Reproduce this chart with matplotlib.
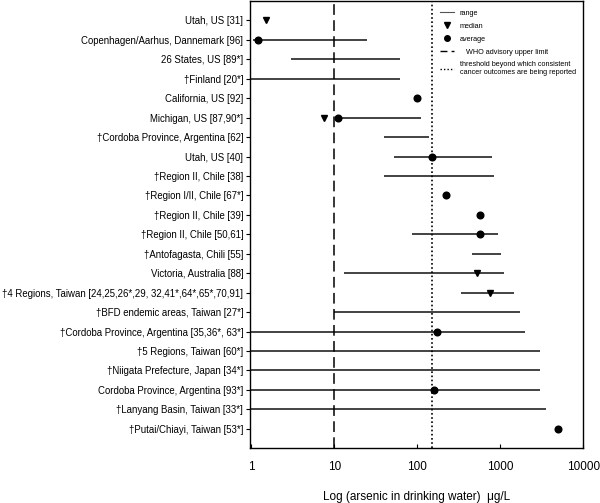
import numpy as np
import matplotlib
matplotlib.use("Agg")
import matplotlib.pyplot as plt
from matplotlib.lines import Line2D

plt.rcParams['font.family'] = ['Liberation Sans', 'DejaVu Sans']

# studies, top to bottom
studies = [
    "Utah, US [31]",
    "Copenhagen/Aarhus, Dannemark [96]",
    "26 States, US [89*]",
    "\u2020Finland [20*]",
    "California, US [92]",
    "Michigan, US [87,90*]",
    "\u2020Cordoba Province, Argentina [62]",
    "Utah, US [40]",
    "\u2020Region II, Chile [38]",
    "\u2020Region I/II, Chile [67*]",
    "\u2020Region II, Chile [39]",
    "\u2020Region II, Chile [50,61]",
    "\u2020Antofagasta, Chili [55]",
    "Victoria, Australia [88]",
    "\u20204 Regions, Taiwan [24,25,26*,29, 32,41*,64*,65*,70,91]",
    "\u2020BFD endemic areas, Taiwan [27*]",
    "\u2020Cordoba Province, Argentina [35,36*, 63*]",
    "\u20205 Regions, Taiwan [60*]",
    "\u2020Niigata Prefecture, Japan [34*]",
    "Cordoba Province, Argentina [93*]",
    "\u2020Lanyang Basin, Taiwan [33*]",
    "\u2020Putai/Chiayi, Taiwan [53*]",
]
nan = np.nan
range_lo = [nan, 1.05, 3, 1, nan, 11, 40, 52, 40, nan, nan, 87, 460, 13, 340, 10, 1, 1, 1, 1, 1, nan]
range_hi = [nan, 25, 62, 62, nan, 110, 140, 800, 830, nan, nan, 950, 1030, 1100, 1470, 1750, 2000, 3000, 3000, 3000, 3600, nan]
median = [1.5, nan, nan, nan, nan, 7.5, nan, nan, nan, nan, nan, nan, nan, 530, 760, nan, nan, nan, nan, nan, nan, nan]
average = [nan, 1.2, nan, nan, 100, 11, nan, 150, nan, 220, 570, 570, nan, nan, nan, nan, 175, nan, nan, 160, nan, 5000]
who_limit = 10
threshold = 150

pos = np.arange(1, len(studies) + 1)

fig = plt.figure(figsize=(6.0, 5.03), dpi=100)
ax = fig.add_axes([0.417, 0.109, 0.555, 0.889])

ax.hlines(pos, range_lo, range_hi, color='#222222', lw=1.2)
ax.plot(median, pos, 'v', color='black', ms=4.8, ls='none')
ax.plot(average, pos, 'o', color='black', ms=4.8, ls='none')
ax.axvline(who_limit, color='black', lw=1.1, ls=(0, (7, 3.5)))
ax.axvline(threshold, color='black', lw=1.2, ls=(0, (1, 1.5)))

ax.set_xscale('log')
ax.set_xlim(0.97, 10000)
ax.set_ylim(23, 0)
ax.set_xticks([1, 10, 100, 1000, 10000])
ax.set_xticklabels(['1', '10', '100', '1000', '10000'])
ax.minorticks_off()
ax.set_yticks(pos)
ax.set_yticklabels(studies)
ax.tick_params(axis='y', direction='out', length=3, labelsize=6.9, pad=2)
ax.tick_params(axis='x', direction='in', length=3, labelsize=8.5, pad=9)
for s in ax.spines.values():
    s.set_linewidth(1.0)

fig.text(0.695, 0.012, 'Log (arsenic in drinking water)  \u03bcg/L',
         fontsize=8.5, ha='center', va='center')

handles = [
    Line2D([], [], color='#555555', lw=0.8),
    Line2D([], [], marker='v', color='black', ls='none', ms=4),
    Line2D([], [], marker='o', color='black', ls='none', ms=4),
    Line2D([], [], color='black', lw=1.0, ls=(0, (5, 3))),
    Line2D([], [], color='black', lw=1.0, ls=(0, (1, 1.5))),
]
labels = ['range', 'median', 'average', '   WHO advisory upper limit',
          'threshold beyond which consistent\ncancer outcomes are being reported']
ax.legend(handles, labels, loc='upper left', frameon=False, fontsize=5.2,
          handlelength=2.0, handletextpad=0.7, labelspacing=0.8,
          borderpad=0, borderaxespad=0,
          bbox_to_anchor=(0.57, 0.98))

fig.savefig('out.png', dpi=100)
